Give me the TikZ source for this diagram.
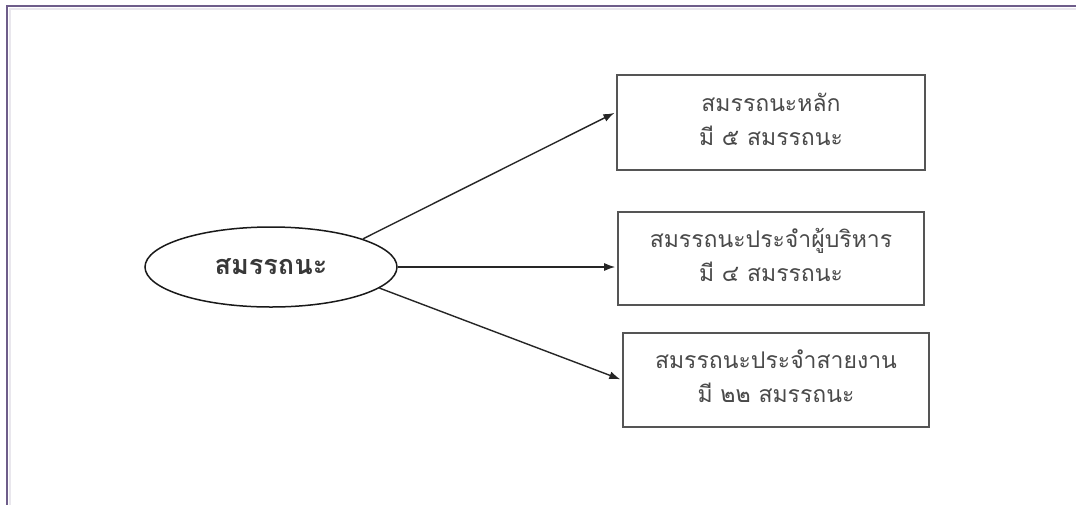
\documentclass[tikz,border=0pt]{standalone}
\usepackage{fontspec}
\newfontfamily\thaifont[Script=Thai]{Loma}
\usetikzlibrary{shapes.geometric,arrows.meta}
\definecolor{framecol}{HTML}{6E5D8A}
\definecolor{boxcol}{HTML}{555555}
\definecolor{txtcol}{HTML}{4A4A4A}
\tikzset{
  x=1pt, y=-1pt,
  boxnode/.style={draw=boxcol, line width=1.6pt, rectangle, inner sep=0pt},
  boxtext/.style={inner sep=0pt, align=center, text=txtcol,
    font=\thaifont\fontsize{23}{34}\selectfont},
  ellnode/.style={draw=black!90, line width=1.5pt, ellipse, inner sep=0pt,
    minimum width=252pt, minimum height=80pt, text=black!78,
    font=\thaifont\bfseries\fontsize{27}{30}\selectfont},
  arr/.style={draw=black!85, line width=1.4pt, -{Latex[length=11pt,width=8pt]}, shorten >=2pt}
}
\begin{document}
\begin{tikzpicture}
\useasboundingbox (0,0) rectangle (1076,504);
\fill[white] (0,0) rectangle (1076,504);
% frame
\draw[framecol, line width=2pt] (7,510) -- (7,6) -- (1085,6);
\draw[framecol!15, line width=2pt] (9.5,510) -- (9.5,8.5) -- (1085,8.5);

\node[ellnode] (ell) at (271,267) {สมรรถนะ};

\node[boxnode, minimum width=308pt, minimum height=95pt] (b1) at (771,122.5) {};
\node[boxnode, minimum width=306pt, minimum height=93pt] (b2) at (771,258.5) {};
\node[boxnode, minimum width=306pt, minimum height=94pt] (b3) at (776,380) {};

\node[boxtext] (t1) at ([yshift=3pt]b1.center) {สมรรถนะหลัก\\มี ๕ สมรรถนะ};
\node[boxtext] (t2) at ([yshift=4pt]b2.center) {สมรรถนะประจำผู้บริหาร\\มี ๔ สมรรถนะ};
\node[boxtext] (t3) at ([yshift=4pt]b3.center) {สมรรถนะประจำสายงาน\\มี ๒๒ สมรรถนะ};

\draw[arr] (ell.17) -- ([yshift=10.5pt]b1.west);
\draw[arr] (ell.east) -- (ell.east -| b2.west);
\draw[arr] (ell.-11) -- (b3.west);
\end{tikzpicture}
\end{document}
